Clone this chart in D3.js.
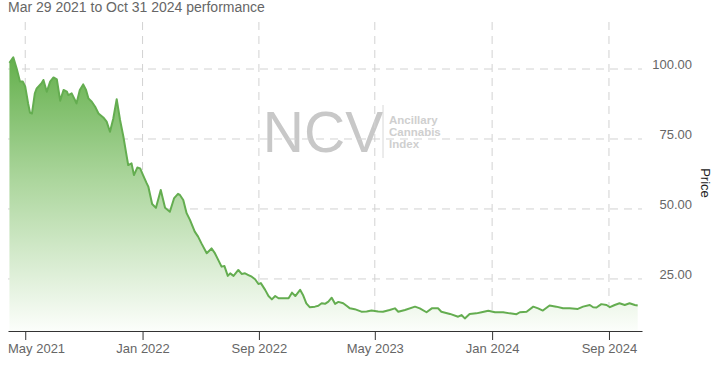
<!DOCTYPE html>
<html>
<head>
<meta charset="utf-8">
<script src="https://cdn.jsdelivr.net/npm/d3@7"></script>
<style>
  html, body { margin: 0; padding: 0; background: #fff; }
  svg { display: block; font-family: "Liberation Sans", Arial, sans-serif; }
</style>
</head>
<body>
<svg id="chart" width="714" height="368"></svg>
<script>
// ---- data ----
const title = "Mar 29 2021 to Oct 31 2024 performance";
const yAxisLabel = "Price";
const dates = [
  "2021-03-29","2021-04-06","2021-04-14","2021-04-20","2021-04-26","2021-05-01","2021-05-07","2021-05-11","2021-05-15","2021-05-21",
  "2021-05-25","2021-06-04","2021-06-08","2021-06-15","2021-06-22","2021-06-29","2021-07-06","2021-07-13","2021-07-20","2021-07-27",
  "2021-07-30","2021-08-06","2021-08-13","2021-08-16","2021-08-23","2021-08-30","2021-09-05","2021-09-10","2021-09-17","2021-09-24",
  "2021-10-01","2021-10-11","2021-10-18","2021-10-25","2021-11-01","2021-11-08","2021-11-15","2021-11-22","2021-11-29","2021-12-02",
  "2021-12-09","2021-12-14","2021-12-21","2021-12-27","2022-01-02","2022-01-09","2022-01-13","2022-01-21","2022-01-29","2022-02-08",
  "2022-02-17","2022-02-27","2022-03-08","2022-03-16","2022-03-20","2022-03-27","2022-04-03","2022-04-10","2022-04-20","2022-04-27",
  "2022-05-04","2022-05-15","2022-05-25","2022-06-01","2022-06-08","2022-06-15","2022-06-21","2022-06-28","2022-07-03","2022-07-10",
  "2022-07-20","2022-07-27","2022-08-03","2022-08-10","2022-08-17","2022-08-24","2022-08-31","2022-09-05","2022-09-14","2022-09-21",
  "2022-09-28","2022-10-05","2022-10-12","2022-10-29","2022-11-02","2022-11-09","2022-11-16","2022-11-26","2022-12-02","2022-12-09",
  "2022-12-16","2022-12-27","2023-01-03","2023-01-10","2023-01-17","2023-01-24","2023-01-31","2023-02-07","2023-02-14","2023-02-24",
  "2023-03-03","2023-03-10","2023-03-20","2023-04-03","2023-04-14","2023-04-24","2023-05-08","2023-05-18","2023-06-01","2023-06-12",
  "2023-06-19","2023-07-03","2023-07-24","2023-08-03","2023-08-17","2023-08-28","2023-09-10","2023-09-17","2023-10-05","2023-10-22",
  "2023-10-29","2023-11-05","2023-11-15","2023-11-29","2023-12-10","2023-12-24","2024-01-07","2024-01-24","2024-02-07","2024-02-21",
  "2024-02-28","2024-03-13","2024-03-27","2024-04-06","2024-04-16","2024-04-30","2024-05-14","2024-05-28","2024-06-11","2024-06-28",
  "2024-07-09","2024-07-23","2024-07-30","2024-08-06","2024-08-16","2024-08-27","2024-09-03","2024-09-13","2024-09-23","2024-10-04",
  "2024-10-14","2024-10-25","2024-10-31"
];
const prices = [
  102.2,104.2,99.6,95.5,95.5,93.7,87.7,84.4,84.1,91.3,
  93.1,94.9,96.1,91.9,95.5,97.0,96.3,88.7,92.5,91.9,
  90.7,91.3,88.9,87.7,92.5,94.5,92.5,89.5,88.3,86.5,
  84.1,82.7,81.2,77.6,82.4,89.2,81.8,75.8,68.7,65.7,
  66.3,62.1,64.8,64.5,62.1,59.4,58.0,51.8,50.4,56.8,
  50.4,49.0,53.9,55.4,55.0,53.2,48.5,46.1,41.9,40.1,
  37.7,34.2,35.9,34.2,31.8,29.4,29.6,26.1,27.0,26.1,
  28.2,26.8,27.0,26.4,25.8,24.9,23.2,23.5,21.1,18.9,
  17.7,18.9,18.1,18.1,18.1,20.1,18.9,21.1,19.3,16.3,
  14.9,15.1,15.4,16.3,16.1,16.9,18.3,16.1,16.8,16.3,
  15.4,14.5,14.2,13.3,13.4,13.7,13.4,13.3,13.9,14.5,
  13.3,13.9,15.1,14.5,13.1,14.5,14.5,13.3,12.5,11.5,
  12.1,10.9,12.5,12.7,13.1,13.6,13.1,13.1,12.7,12.4,
  13.1,13.3,15.1,14.5,13.7,15.5,15.1,14.5,14.5,14.3,
  15.1,15.7,14.9,14.8,16.0,15.7,14.9,15.7,16.3,15.7,
  16.3,15.7,15.5
];
const xTickDates = ["2021-05-01","2022-01-01","2022-09-01","2023-05-01","2024-01-01","2024-09-01"];
const yTickValues = [25, 50, 75, 100];
const watermarkMain = "NCV";
const watermarkLines = ["Ancillary", "Cannabis", "Index"];

// ---- chart ----
(function() {
const parse = d3.timeParse("%Y-%m-%d");
const data = dates.map((d, i) => ({ date: parse(d), value: prices[i] }));

const svg = d3.select("#chart");
const pLeft = 8, pRight = 642, pTop = 22, pBottom = 331;

const x = d3.scaleTime()
  .domain([parse("2021-03-26"), parse("2024-11-09")])
  .range([pLeft, pRight]);
const y = d3.scaleLinear()
  .domain([6.4, 116.8])
  .range([pBottom, pTop]);

// gradient
const defs = svg.append("defs");
const grad = defs.append("linearGradient")
  .attr("id", "fillGrad")
  .attr("gradientUnits", "userSpaceOnUse")
  .attr("x1", 0).attr("x2", 0)
  .attr("y1", y(d3.max(prices))).attr("y2", pBottom);
grad.append("stop").attr("offset", 0).attr("stop-color", "#64b04c");
grad.append("stop").attr("offset", 0.45).attr("stop-color", "#acd69d");
grad.append("stop").attr("offset", 1).attr("stop-color", "#fcfefb");

// watermark
const wm = svg.append("g").attr("class", "watermark");
wm.append("text")
  .attr("x", 323).attr("y", 152)
  .attr("text-anchor", "middle")
  .attr("font-size", 57)
  .attr("fill", "#c8c8c8")
  .text(watermarkMain);
wm.append("line")
  .attr("x1", 383).attr("x2", 383)
  .attr("y1", 105).attr("y2", 158)
  .attr("stroke", "#d8d8d8").attr("stroke-width", 1);
wm.selectAll("text.sub").data(watermarkLines).enter().append("text")
  .attr("class", "sub")
  .attr("x", 389)
  .attr("y", (d, i) => 124 + i * 12)
  .attr("font-size", 11.5)
  .attr("font-weight", "bold")
  .attr("fill", "#cfcfcf")
  .text(d => d);

// grid
const grid = svg.append("g").attr("class", "grid");
grid.selectAll("line.h").data(yTickValues).enter().append("line")
  .attr("class", "h")
  .attr("x1", pLeft).attr("x2", pRight)
  .attr("y1", d => y(d)).attr("y2", d => y(d))
  .attr("stroke", "#d2d2d2").attr("stroke-dasharray", "8,6");
grid.selectAll("line.v").data(xTickDates).enter().append("line")
  .attr("class", "v")
  .attr("x1", d => x(parse(d))).attr("x2", d => x(parse(d)))
  .attr("y1", pTop).attr("y2", pBottom)
  .attr("stroke", "#d2d2d2").attr("stroke-dasharray", "8,6");

// area + line
const area = d3.area()
  .x(d => x(d.date))
  .y0(pBottom)
  .y1(d => y(d.value));
const line = d3.line()
  .x(d => x(d.date))
  .y(d => y(d.value));

svg.append("path").datum(data)
  .attr("d", area)
  .attr("fill", "url(#fillGrad)");
svg.append("path").datum(data)
  .attr("d", line)
  .attr("fill", "none")
  .attr("stroke", "#64ad50")
  .attr("stroke-width", 2)
  .attr("stroke-linejoin", "round");

// x axis
const xAxis = d3.axisBottom(x)
  .tickValues(xTickDates.map(parse))
  .tickFormat(d3.timeFormat("%b %Y"))
  .tickSize(9)
  .tickSizeOuter(0)
  .tickPadding(4);
const gx = svg.append("g")
  .attr("transform", `translate(0,${pBottom})`)
  .call(xAxis);
gx.select(".domain").attr("stroke", "#333").attr("stroke-width", 1.2);
gx.selectAll(".tick line").attr("stroke", "#333");
gx.selectAll(".tick text")
  .attr("fill", "#666")
  .attr("font-size", 13)
  .attr("font-family", "Liberation Sans, Arial, sans-serif");
// keep first label inside the plot's left edge
gx.selectAll(".tick text").each(function() {
  const bb = this.getBBox();
  const tr = d3.select(this.parentNode).attr("transform");
  const tx = +tr.match(/translate\(([-\d.]+)/)[1];
  if (tx + bb.x < pLeft) d3.select(this).attr("x", pLeft - tx - bb.x);
});

// y axis labels (right)
svg.append("g").selectAll("text").data(yTickValues).enter().append("text")
  .attr("x", 692)
  .attr("y", d => y(d))
  .attr("text-anchor", "end")
  .attr("font-size", 13)
  .attr("fill", "#666")
  .text(d => d3.format(".2f")(d));

// y axis title
svg.append("text")
  .attr("transform", "translate(701,183) rotate(90)")
  .attr("text-anchor", "middle")
  .attr("font-size", 13)
  .attr("fill", "#222")
  .text(yAxisLabel);

// title
svg.append("text")
  .attr("x", 8).attr("y", 12)
  .attr("font-size", 14)
  .attr("fill", "#666")
  .text(title);
})();
</script>
</body>
</html>
